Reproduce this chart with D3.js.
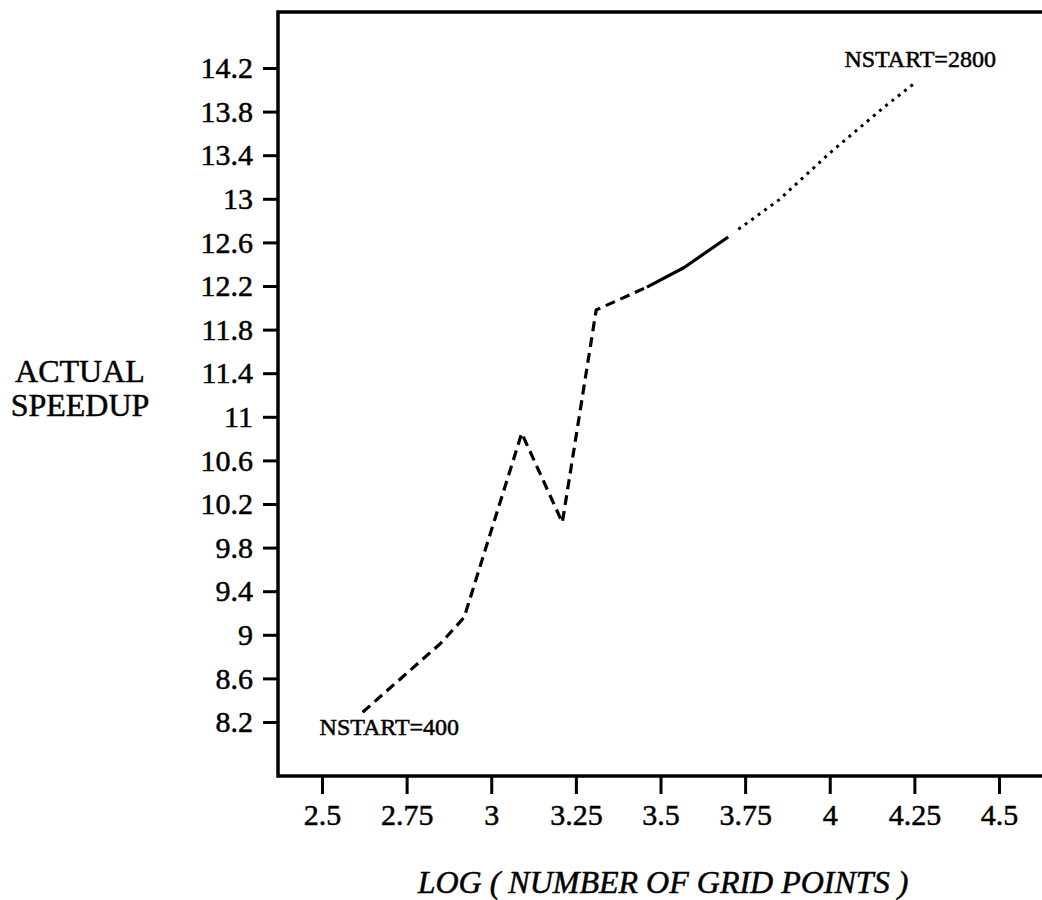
<!DOCTYPE html>
<html>
<head>
<meta charset="utf-8">
<script src="https://cdn.jsdelivr.net/npm/d3@7.9.0/dist/d3.min.js"></script>
<style>
  body { margin: 0; background: #fff; }
  svg { display: block; }
  text { font-family: "Liberation Serif", "Times New Roman", serif; fill: #000; stroke: #000; stroke-width: 0.5px; }
  .tick line { stroke: #000; stroke-width: 3; }
</style>
</head>
<body>
<div id="chart"></div>
<script>
// speedup curve, split by line style
const dashedX = [2.62, 2.85, 2.92, 3.09, 3.21, 3.31, 3.36, 3.46];
const dashedY = [8.29, 8.92, 9.16, 10.85, 10.03, 11.98, 12.05, 12.19];
const solidX = [3.46, 3.57, 3.70];
const solidY = [12.19, 12.37, 12.65];
const dottedX = [3.73, 3.85, 4.00, 4.16, 4.25];
const dottedY = [12.72, 12.99, 13.42, 13.84, 14.06];

const xTicks = [2.5, 2.75, 3, 3.25, 3.5, 3.75, 4, 4.25, 4.5];
const yTicks = [8.2, 8.6, 9, 9.4, 9.8, 10.2, 10.6, 11, 11.4, 11.8, 12.2, 12.6, 13, 13.4, 13.8, 14.2];

const startLabel = 'NSTART=400';
const endLabel = 'NSTART=2800';

const width = 1042;
const height = 900;
const frame = { left: 278, top: 12, right: 1060, bottom: 776 };

const svg = d3.select('#chart')
  .append('svg')
  .attr('width', width)
  .attr('height', height);

const xScale = d3.scaleLinear().domain([2.5, 4.5]).range([322, 999]);
const yScale = d3.scaleLinear().domain([8.2, 14.2]).range([722, 68]);

// axes (ticks only, frame drawn separately)
const yAxis = svg.append('g')
  .attr('transform', `translate(${frame.left},0)`)
  .call(d3.axisLeft(yScale).tickValues(yTicks).tickSize(15).tickPadding(10).tickFormat(d3.format('~g')));
yAxis.select('.domain').remove();
yAxis.selectAll('text').style('font-size', '30px');

const xAxis = svg.append('g')
  .attr('transform', `translate(0,${frame.bottom})`)
  .call(d3.axisBottom(xScale).tickValues(xTicks).tickSize(18).tickPadding(10).tickFormat(d3.format('~g')));
xAxis.select('.domain').remove();
xAxis.selectAll('text').style('font-size', '30px');

// frame
svg.append('path')
  .attr('d', `M${frame.right},${frame.top}H${frame.left}V${frame.bottom}H${frame.right}`)
  .attr('fill', 'none')
  .attr('stroke', '#000')
  .attr('stroke-width', 3.5);

const line = d3.line()
  .x((d) => xScale(d[0]))
  .y((d) => yScale(d[1]));

const series = [
  { pts: d3.zip(dashedX, dashedY), dash: '10,6', w: 3.2 },
  { pts: d3.zip(solidX, solidY), dash: null, w: 3.2 },
  { pts: d3.zip(dottedX, dottedY), dash: '3,5', w: 3 },
];

svg.append('g')
  .selectAll('path')
  .data(series)
  .join('path')
  .attr('d', (d) => line(d.pts))
  .attr('fill', 'none')
  .attr('stroke', '#000')
  .attr('stroke-width', (d) => d.w)
  .attr('stroke-dasharray', (d) => d.dash)
  .attr('stroke-linejoin', 'round');

// end labels
svg.append('text')
  .attr('x', xScale(dashedX[0]) - 43)
  .attr('y', yScale(dashedY[0]) + 23)
  .style('font-size', '24px')
  .text(startLabel);

svg.append('text')
  .attr('x', xScale(dottedX[dottedX.length - 1]) - 70)
  .attr('y', yScale(dottedY[dottedY.length - 1]) - 16)
  .style('font-size', '24px')
  .text(endLabel);

// axis titles
svg.append('text')
  .attr('x', 80)
  .attr('y', 382)
  .attr('text-anchor', 'middle')
  .style('font-size', '32px')
  .text('ACTUAL');

svg.append('text')
  .attr('x', 80)
  .attr('y', 416)
  .attr('text-anchor', 'middle')
  .style('font-size', '32px')
  .text('SPEEDUP');

svg.append('text')
  .attr('x', 663)
  .attr('y', 893)
  .attr('text-anchor', 'middle')
  .style('font-size', '32px')
  .style('font-style', 'italic')
  .text('LOG ( NUMBER OF GRID POINTS )');
</script>
</body>
</html>
